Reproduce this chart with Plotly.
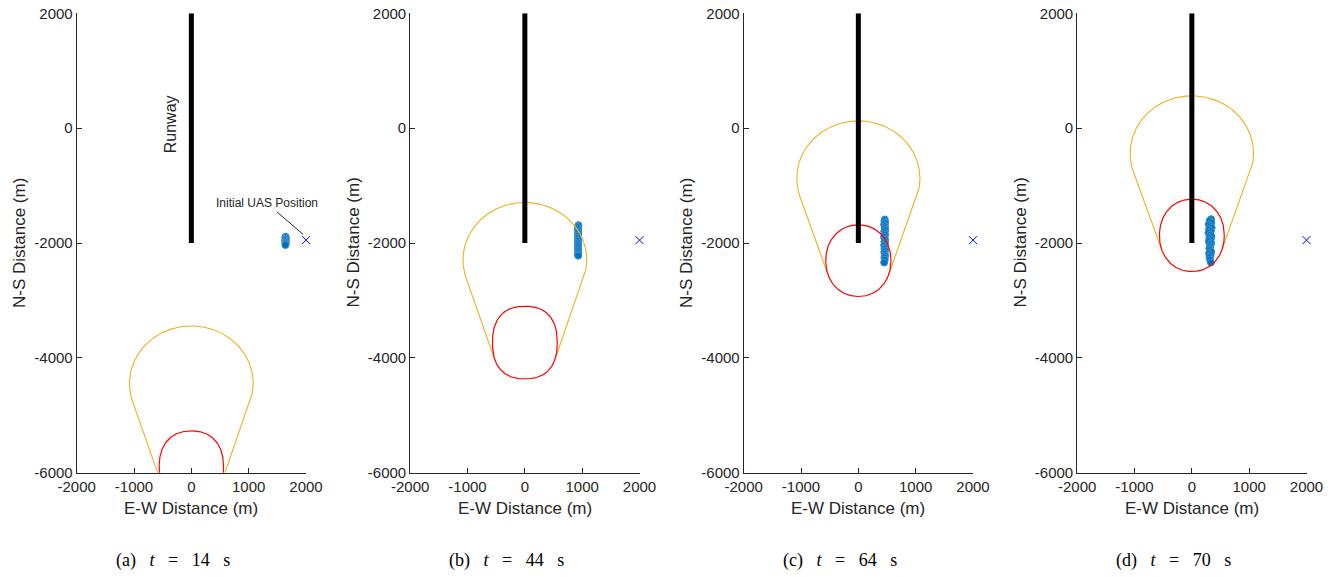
import numpy as np
import plotly.graph_objects as go

# ---------------- data ----------------
panel_labels = ["(a)", "(b)", "(c)", "(d)"]
panel_times = [14, 44, 64, 70]

# outer (yellow) reachable region: ellipse centre and radii
yellow_cx = [0, 0, 0, 0]
yellow_cy = [-4444, -2294, -873, -437]
yellow_rx = [1080, 1080, 1075, 1077]
yellow_ry = [1000, 1000, 1000, 1000]

# inner (red) region: rounded shape centre, radii and squareness
red_cx = [0, 0, 0, 0]
red_cy = [-5905, -3734, -2308, -1867]
red_rx = [562, 565, 569, 566]
red_ry = [632, 632, 624, 630]
red_pow = [2.3, 2.4, 2.1, 2.1]

# runway (x, y endpoints)
runway_x = [0, 0]
runway_y = [-2000, 2000]

# initial UAS position
uas0_x = [2000]
uas0_y = [-1950]

# particle clouds (UAS position estimates)
cloud_x = [
    [1645, 1640, 1648, 1642, 1646, 1640, 1644, 1642, 1645, 1641],
    [935, 928, 932, 926, 930, 934, 927, 931, 929, 933, 926, 930, 928, 925,
     932, 929, 934, 927, 930],
    [462, 455, 468, 450, 464, 458, 470, 452, 461, 466, 449, 457, 469, 454, 463, 451, 460, 456,
     465, 453, 459, 467, 455, 461, 450],
    [335, 310, 340, 295, 325, 345, 300, 330, 290, 320, 342, 305, 328, 298, 336, 312, 322, 305, 315,
     338, 300, 326, 308, 318, 332],
]
cloud_y = [
    [-1890, -1906, -1922, -1938, -1954, -1970, -1986, -2002, -2018, -2035],
    [-1690, -1720, -1750, -1780, -1810, -1840, -1870, -1900, -1930, -1960, -1990, -2020, -2050, -2080,
     -2110, -2140, -2170, -2195, -2220],
    [-1590, -1620, -1650, -1680, -1710, -1740, -1770, -1800, -1830, -1860, -1890, -1920, -1950, -1980,
     -2010, -2040, -2070, -2100, -2130, -2160, -2190, -2220, -2250, -2290, -2340],
    [-1585, -1615, -1645, -1675, -1705, -1735, -1765, -1795, -1825, -1855, -1885, -1915, -1945, -1975,
     -2005, -2035, -2065, -2095, -2125, -2155, -2185, -2215, -2250, -2290, -2340],
]

x_ticks = [-2000, -1000, 0, 1000, 2000]
x_tick_text = ["-2000", "-1000", "0", "1000", "2000"]
y_ticks = [-6000, -4000, -2000, 0, 2000]
y_tick_text = ["-6000", "-4000", "-2000", "0", "2000"]
x_range = [-2000, 2000]
y_range = [-6000, 2000]

# ---------------- styles ----------------
YELLOW = "#EDB120"
RED = "#FF0000"
BLUE = "#0072BD"
AX = "#262626"
SANS = "Liberation Sans, Arial, Helvetica, sans-serif"
SERIF = "Liberation Serif, Times New Roman, serif"

W, H = 1338, 577
ax_left_px = [76.7 + 333.5 * i for i in range(4)]
ax_w_px = 229.3
ax_top_px, ax_bot_px = 13.3, 472.7


def superellipse(cx, cy, rx, ry, p, n=720):
    t = np.linspace(0, 2 * np.pi, n, endpoint=False)
    c, s = np.cos(t), np.sin(t)
    x = cx + rx * np.sign(c) * np.abs(c) ** (2.0 / p)
    y = cy + ry * np.sign(s) * np.abs(s) ** (2.0 / p)
    return x, y


def convex_hull(pts):
    idx = sorted(range(len(pts)), key=lambda i: (pts[i][0], pts[i][1]))

    def cross(o, a, b):
        return (a[0] - o[0]) * (b[1] - o[1]) - (a[1] - o[1]) * (b[0] - o[0])

    lower, upper = [], []
    for i in idx:
        while len(lower) >= 2 and cross(pts[lower[-2]], pts[lower[-1]], pts[i]) <= 0:
            lower.pop()
        lower.append(i)
    for i in reversed(idx):
        while len(upper) >= 2 and cross(pts[upper[-2]], pts[upper[-1]], pts[i]) <= 0:
            upper.pop()
        upper.append(i)
    return lower[:-1] + upper[:-1]


fig = go.Figure()

for i in range(4):
    xa = "x" if i == 0 else f"x{i+1}"
    ya = "y" if i == 0 else f"y{i+1}"

    ex, ey = superellipse(yellow_cx[i], yellow_cy[i], yellow_rx[i], yellow_ry[i], 2.0)
    rx, ry = superellipse(red_cx[i], red_cy[i], red_rx[i], red_ry[i], red_pow[i])
    pts = [(a, b) for a, b in zip(ex, ey)] + [(a, b) for a, b in zip(rx, ry)]
    nY = len(ex)
    hull = convex_hull(pts)
    isY = [h < nY for h in hull]
    m = len(hull)
    start = next(k for k in range(m) if isY[k] and not isY[k - 1])
    chain = [hull[start - 1]]
    k = start
    while isY[k % m]:
        chain.append(hull[k % m])
        k += 1
    chain.append(hull[k % m])
    hx = [pts[c][0] for c in chain]
    hy = [pts[c][1] for c in chain]

    # particle cloud
    fig.add_trace(go.Scatter(x=cloud_x[i], y=cloud_y[i], mode="markers", xaxis=xa, yaxis=ya,
                             marker=dict(symbol="circle", size=7, color=BLUE,
                                         line=dict(color="#3a8fd0", width=1)),
                             showlegend=False, hoverinfo="skip"))
    # yellow outer region
    fig.add_trace(go.Scatter(x=hx, y=hy, mode="lines", xaxis=xa, yaxis=ya,
                             line=dict(color=YELLOW, width=1.1),
                             showlegend=False, hoverinfo="skip"))
    # red inner region
    fig.add_trace(go.Scatter(x=list(rx) + [rx[0]], y=list(ry) + [ry[0]], mode="lines",
                             xaxis=xa, yaxis=ya, line=dict(color=RED, width=1.2),
                             showlegend=False, hoverinfo="skip"))
    # runway
    fig.add_trace(go.Scatter(x=runway_x, y=runway_y, mode="lines", xaxis=xa, yaxis=ya,
                             line=dict(color="black", width=5),
                             showlegend=False, hoverinfo="skip"))
    # initial UAS position
    fig.add_trace(go.Scatter(x=uas0_x, y=uas0_y, mode="markers", xaxis=xa, yaxis=ya,
                             marker=dict(symbol="x-thin", size=8, line=dict(color="#0000FF", width=1)),
                             showlegend=False, hoverinfo="skip", cliponaxis=False))

    x0 = ax_left_px[i] / W
    x1 = (ax_left_px[i] + ax_w_px) / W
    y0 = 1 - ax_bot_px / H
    y1 = 1 - ax_top_px / H
    axis_common = dict(showline=True, linecolor=AX, linewidth=1, mirror=False,
                       showgrid=False, zeroline=False, ticks="inside", ticklen=5,
                       tickwidth=1, tickcolor=AX, automargin=False,
                       tickfont=dict(family=SANS, size=15, color=AX))
    fig.update_layout(**{
        ("xaxis" if i == 0 else f"xaxis{i+1}"): dict(domain=[x0, x1], range=x_range,
                                                       tickvals=x_ticks, ticktext=x_tick_text,
                                                       anchor=ya, **axis_common),
        ("yaxis" if i == 0 else f"yaxis{i+1}"): dict(domain=[y0, y1], range=y_range,
                                                       tickvals=y_ticks, ticktext=y_tick_text,
                                                       anchor=xa, **axis_common),
    })

    xc = (ax_left_px[i] + ax_w_px / 2) / W
    fig.add_annotation(text="E-W Distance (m)", x=xc, y=1 - 508 / H, xref="paper", yref="paper",
                       showarrow=False, xanchor="center", yanchor="middle",
                       font=dict(family=SANS, size=17, color=AX))
    fig.add_annotation(text="N-S Distance (m)", x=(19 + 333.5 * i) / W,
                       y=1 - (ax_top_px + ax_bot_px) / 2 / H, xref="paper", yref="paper",
                       showarrow=False, textangle=-90, xanchor="center", yanchor="middle",
                       font=dict(family=SANS, size=17, color=AX))
    sp = "&nbsp;&nbsp;&nbsp;"
    fig.add_annotation(text=f"{panel_labels[i]}{sp}<i>t</i>{sp}={sp}{panel_times[i]}{sp}s",
                       x=(172.6 + 333.5 * i) / W, y=1 - 560 / H, xref="paper", yref="paper",
                       showarrow=False, xanchor="center", yanchor="middle",
                       font=dict(family=SERIF, size=18, color="black"))

# panel (a) labels
fig.add_annotation(text="Runway", x=-370, y=70, xref="x", yref="y", textangle=-90,
                   showarrow=False, font=dict(family=SANS, size=16, color=AX))
fig.add_annotation(text="Initial UAS Position", x=uas0_x[0] - 50, y=uas0_y[0] + 100,
                   ax=1320, ay=-1310, xref="x", yref="y", axref="x", ayref="y",
                   showarrow=True, arrowhead=0, arrowwidth=1, arrowcolor=AX,
                   font=dict(family=SANS, size=12, color=AX))

fig.update_layout(width=W, height=H, margin=dict(l=0, r=0, t=0, b=0, autoexpand=False),
                  paper_bgcolor="white", plot_bgcolor="white", showlegend=False)

fig.write_html("out.html")
